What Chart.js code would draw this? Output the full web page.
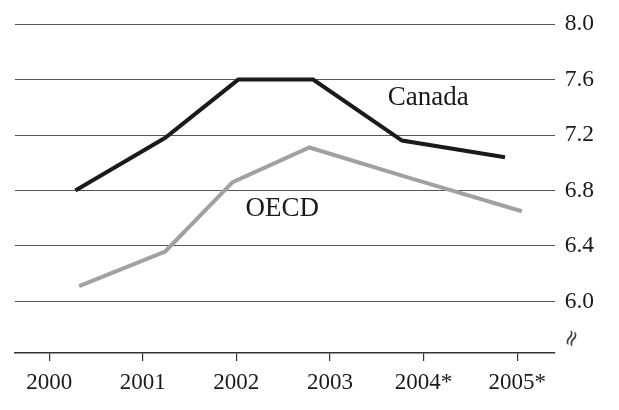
<!DOCTYPE html>
<html>
<head>
<meta charset="utf-8">
<script src="https://cdn.jsdelivr.net/npm/chart.js@4/dist/chart.umd.min.js"></script>
<style>
   html, body { margin: 0; padding: 0; background: #fff; }
   #wrap { width: 619px; height: 410px; }
</style>
</head>
<body>
<div id="wrap"><canvas id="chart" width="619" height="410"></canvas></div>
<script>
// x ticks
const years = [2000, 2001, 2002, 2003, 2004, 2005];
const yearLabels = ["2000", "2001", "2002", "2003", "2004*", "2005*"];
// y ticks
const yTicks = [6.0, 6.4, 6.8, 7.2, 7.6, 8.0];

// series (points sit a bit off the year ticks in the original)
const canadaX = [2000.28, 2001.24, 2002.02, 2002.82, 2003.77, 2004.87];
const canadaY = [6.80, 7.18, 7.60, 7.60, 7.16, 7.04];
const oecdX = [2000.32, 2001.24, 2001.96, 2002.78, 2003.9, 2005.05];
const oecdY = [6.11, 6.36, 6.86, 7.11, 6.88, 6.65];

// in-chart series names, in data units
const seriesLabels = [
   { text: "Canada", x: 2004.05, y: 7.47 },
   { text: "OECD", x: 2002.49, y: 6.665 }
];

const serif = "'Liberation Serif', 'Times New Roman', serif";

function toPoints(xs, ys) {
   return xs.map((x, i) => ({ x: x, y: ys[i] }));
}

const labelPlugin = {
   id: "labels",
   afterDatasetsDraw(chart) {
      const { ctx, scales } = chart;
      ctx.save();
      ctx.fillStyle = "#1a1a1a";
      ctx.font = `27px ${serif}`;
      ctx.textAlign = "center";
      ctx.textBaseline = "middle";
      seriesLabels.forEach(l => {
         ctx.fillText(l.text, scales.x.getPixelForValue(l.x), scales.y.getPixelForValue(l.y));
      });
      // axis break mark
      ctx.translate(scales.x.right + 18, scales.y.getPixelForValue(5.73));
      ctx.rotate(-Math.PI * 0.38);
      ctx.font = "22px 'DejaVu Sans'";
      ctx.fillStyle = "#444";
      ctx.fillText("≈", 0, 0);
      ctx.restore();
   }
};

new Chart(document.getElementById("chart"), {
   type: "line",
   data: {
      datasets: [
         {
            label: "Canada",
            data: toPoints(canadaX, canadaY),
            borderColor: "#1a1a1a",
            borderWidth: 4,
            pointRadius: 0,
            tension: 0,
            borderJoinStyle: "miter"
         },
         {
            label: "OECD",
            data: toPoints(oecdX, oecdY),
            borderColor: "#9ea2a5",
            borderWidth: 4,
            pointRadius: 0,
            tension: 0,
            borderJoinStyle: "miter"
         }
      ]
   },
   options: {
      responsive: false,
      devicePixelRatio: 1,
      animation: false,
      layout: { padding: { top: 16, left: 15, right: 15, bottom: 6 } },
      plugins: {
         legend: { display: false },
         tooltip: { enabled: false }
      },
      scales: {
         x: {
            type: "linear",
            min: 1999.635,
            max: 2005.4,
            afterBuildTicks: (s) => { s.ticks = years.map(v => ({ value: v })); },
            ticks: {
               callback: (v) => yearLabels[years.indexOf(v)],
               font: { family: serif, size: 23, lineHeight: 1 },
               color: "#1a1a1a",
               padding: 10,
               maxRotation: 0,
               autoSkip: false
            },
            grid: {
               drawOnChartArea: false,
               drawTicks: true,
               tickLength: 8,
               color: "#333",
               lineWidth: 1.2
            },
            border: { display: true, color: "#333", width: 1.5 }
         },
         y: {
            position: "right",
            min: 5.628,
            max: 8.0,
            afterBuildTicks: (s) => { s.ticks = yTicks.map(v => ({ value: v })); },
            ticks: {
               callback: (v) => v.toFixed(1),
               font: { family: serif, size: 23.5 },
               color: "#1a1a1a",
               padding: 10
            },
            grid: { color: "#555", lineWidth: 1, drawTicks: false },
            border: { display: false }
         }
      }
   },
   plugins: [labelPlugin]
});
</script>
</body>
</html>
